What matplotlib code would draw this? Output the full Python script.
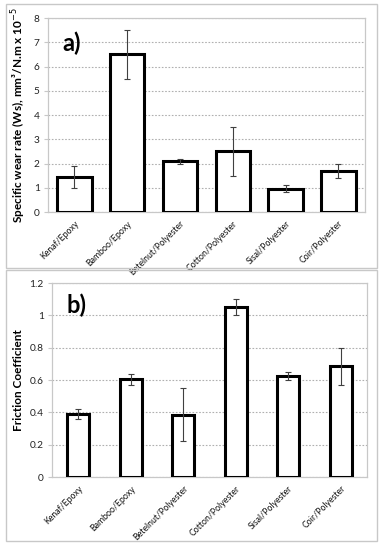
import matplotlib
matplotlib.use("Agg")
import matplotlib.pyplot as plt
from matplotlib.patches import Rectangle

plt.rcParams['font.family'] = ['Lato', 'DejaVu Sans']

categories = ["Kenaf/Epoxy", "Bamboo/Epoxy", "Betelnut/Polyester",
              "Cotton/Polyester", "Sisal/Polyester", "Coir/Polyester"]

wear_rate = [1.45, 6.5, 2.1, 2.5, 0.97, 1.7]
wear_err = [0.45, 1.0, 0.1, 1.0, 0.14, 0.3]

friction = [0.39, 0.605, 0.385, 1.05, 0.625, 0.685]
friction_err = [0.03, 0.035, 0.165, 0.05, 0.025, 0.115]

grid_color = "#b0b0b0"
spine_color = "#c8c8c8"


def draw_panel(ax, values, errors, width, ylim, yticks, ylabel, tag, tag_y):
    x = range(len(categories))
    ax.bar(x, values, width=width, color="white", edgecolor="black",
           linewidth=2.2, zorder=3)
    ax.errorbar(x, values, yerr=errors, fmt="none", ecolor="#404040",
                elinewidth=0.8, capsize=2.5, capthick=0.8, zorder=4)
    ax.set_xlim(-0.5, len(categories) - 0.5)
    ax.set_ylim(*ylim)
    ax.set_yticks(yticks)
    ax.set_yticklabels([("%g" % t) for t in yticks])
    ax.yaxis.grid(True, linestyle=(0, (1.5, 1.5)), color=grid_color,
                  linewidth=0.8, zorder=0)
    ax.set_xticks(list(x))
    ax.set_xticklabels(categories, rotation=45, ha="right",
                       rotation_mode="anchor", fontsize=6.3, color="#111111")
    ax.tick_params(axis="x", length=0, pad=5)
    ax.tick_params(axis="y", length=3, width=0.8, color=spine_color,
                   labelsize=7.3, labelcolor="#222222", pad=3)
    for s in ax.spines.values():
        s.set_color(spine_color)
        s.set_linewidth(0.9)
    ax.set_ylabel(ylabel, fontsize=8.5, fontweight="bold", labelpad=4)
    ax.text(0.045, tag_y, tag, transform=ax.transAxes, fontsize=17,
            fontweight="bold", va="center", ha="left")


fig = plt.figure(figsize=(3.85, 5.5), dpi=100)

# panel frames
fig.patches.append(Rectangle((0.0156, 0.5127), 0.9636, 0.48, transform=fig.transFigure,
                             fill=False, edgecolor="#c8c8c8", linewidth=1.0))
fig.patches.append(Rectangle((0.0156, 0.0164), 0.9636, 0.4927, transform=fig.transFigure,
                             fill=False, edgecolor="#c8c8c8", linewidth=1.0))

ax1 = fig.add_axes([0.1247, 0.6145, 0.823, 0.3527])
draw_panel(ax1, wear_rate, wear_err, 0.65, (0, 8), list(range(0, 9)),
           "Specific wear rate (Ws), mm³/N.m x 10$^{-5}$", "a)", 0.87)

ax2 = fig.add_axes([0.135, 0.1327, 0.818, 0.3527])
draw_panel(ax2, friction, friction_err, 0.42, (0, 1.2),
           [0, 0.2, 0.4, 0.6, 0.8, 1.0, 1.2],
           "Friction Coefficient", "b)", 0.885)

fig.savefig("out.png", dpi=100)
